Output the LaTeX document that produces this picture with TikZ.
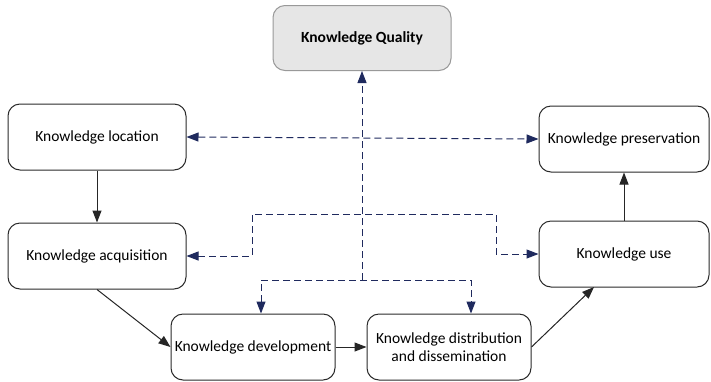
\documentclass[tikz,border=0pt]{standalone}
\usepackage{fontspec}
\setmainfont{Carlito}
\usetikzlibrary{arrows.meta,calc}
\definecolor{navy}{HTML}{1F2A5E}
\definecolor{qfill}{HTML}{E6E6E6}
\definecolor{boxline}{HTML}{2A2A2A}
\begin{document}
\begin{tikzpicture}[x=1pt,y=-1pt,
  kbox/.style={draw=boxline,line width=1pt,rounded corners=12pt,fill=white,align=center,inner sep=2pt,font=\fontsize{15.5}{18.5}\selectfont},
  qbox/.style={kbox,fill=qfill,draw=gray!80,font=\bfseries\fontsize{15.5}{18.5}\selectfont},
  solidarrow/.style={draw=black!85,line width=1pt,-{Triangle[length=12pt,width=9pt]}},
  dasharrow/.style={draw=navy,line width=1pt,dash pattern=on 7pt off 4pt,-{Triangle[length=12pt,width=9pt]}},
  dashboth/.style={dasharrow,{Triangle[length=12pt,width=9pt]}-{Triangle[length=12pt,width=9pt]}}
]
\useasboundingbox (0,0) rectangle (711,381);
\node[qbox,minimum width=178pt,minimum height=65pt] (q) at (362,38) {Knowledge Quality};
\node[kbox,minimum width=178pt,minimum height=66pt] (loc) at (97,137) {Knowledge location};
\node[kbox,minimum width=178pt,minimum height=66pt] (acq) at (97,256) {Knowledge acquisition};
\node[kbox,minimum width=170pt,minimum height=66pt] (pres) at (624,139) {Knowledge preservation};
\node[kbox,minimum width=170pt,minimum height=66pt] (use) at (624,254) {Knowledge use};
\node[kbox,minimum width=164pt,minimum height=66pt] (dev) at (253,347) {Knowledge development};
\node[kbox,minimum width=164pt,minimum height=66pt] (dist) at (449,347) {Knowledge distribution\\and dissemination};

\coordinate (hub) at (362,280);
\coordinate (ul) at (252,214);
\coordinate (ur) at (496,214);
\coordinate (dl) at (261,280);
\coordinate (dr) at (471,280);
\coordinate (ut) at (594,287);

\draw[dashboth] (loc.east) -- (pres.west);
\draw[dasharrow] (hub) -- (q.south);
\draw[dashboth] (acq.east) -| (ul) -- (ur) |- (use.west);
\draw[dashboth] (dl |- dev.north) -- (dl) -- (dr) -- (dr |- dist.north);

\draw[solidarrow] (loc.south) -- (acq.north);
\draw[solidarrow] (acq.south) -- (dev.west);
\draw[solidarrow] (dev.east) -- (dist.west);
\draw[solidarrow] (dist.east) -- (ut);
\draw[solidarrow] (use.north) -- (pres.south);
\end{tikzpicture}
\end{document}
